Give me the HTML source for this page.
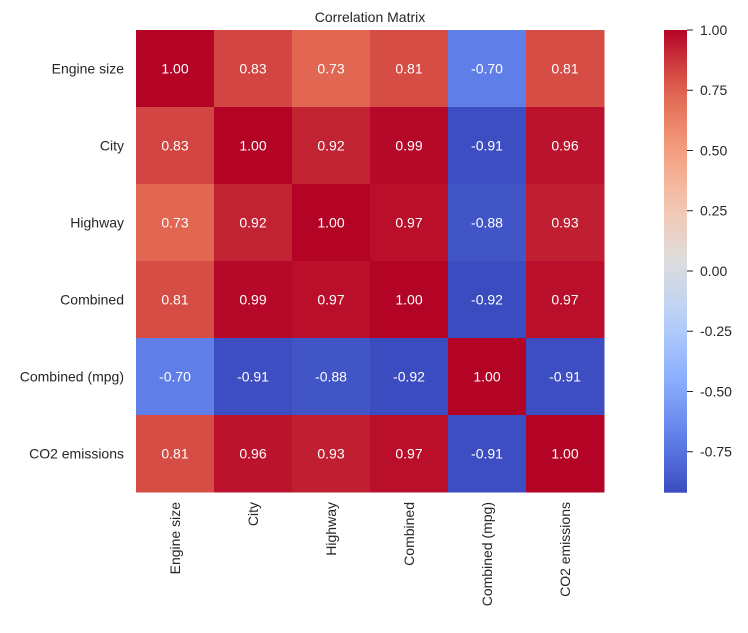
<!DOCTYPE html>
<html><head><meta charset="utf-8"><style>
body{margin:0;background:#fff;width:748px;height:628px;overflow:hidden}
svg text{font-family:"Liberation Sans","DejaVu Sans",sans-serif;fill:#262626}
</style></head><body>
<svg id="chart" width="748" height="628"></svg>
<script>
const labels = ["Engine size","City","Highway","Combined","Combined (mpg)","CO2 emissions"];
const row0 = [1.00,0.83,0.73,0.81,-0.70,0.81];
const row1 = [0.83,1.00,0.92,0.99,-0.91,0.96];
const row2 = [0.73,0.92,1.00,0.97,-0.88,0.93];
const row3 = [0.81,0.99,0.97,1.00,-0.92,0.97];
const row4 = [-0.70,-0.91,-0.88,-0.92,1.00,-0.91];
const row5 = [0.81,0.96,0.93,0.97,-0.91,1.00];
const matrix = [row0,row1,row2,row3,row4,row5];
const cbTicks = [1.00,0.75,0.50,0.25,0.00,-0.25,-0.50,-0.75];
const vmin = -0.92, vmax = 1.00;

const NS="http://www.w3.org/2000/svg";
const svg=document.getElementById('chart');
function mk(t,a,p){const e=document.createElementNS(NS,t);for(const k in a)e.setAttribute(k,a[k]);(p||svg).appendChild(e);return e;}
const cmap=[[59,76,192],[98,130,234],[141,176,254],[184,208,249],[221,221,221],[245,196,173],[244,154,123],[222,96,77],[180,4,38]];
function color(v){let t=(v-vmin)/(vmax-vmin);t=Math.max(0,Math.min(1,t));const s=t*8,i=Math.min(7,Math.floor(s)),f=s-i;
const c=cmap[i].map((x,k)=>Math.round(x+(cmap[i+1][k]-x)*f));return `rgb(${c})`;}
const X0=136,Y0=30,CW=78,CH=77;
const xPos=j=>X0+j*CW, yPos=i=>Y0+i*CH;

const title=mk('text',{x:370,y:22,'text-anchor':'middle','font-size':14});
title.textContent='Correlation Matrix';



matrix.forEach((row,i)=>row.forEach((v,j)=>{
  const r=mk('rect',{x:xPos(j),y:yPos(i),width:CW+0.5,height:CH+0.5,fill:color(v)});
  
  
  const t=mk('text',{x:xPos(j)+CW/2,y:yPos(i)+CH/2+5,'text-anchor':'middle','font-size':14,style:'fill:#fff'});
  t.textContent=v.toFixed(2);
  
  
}));
labels.forEach((l,i)=>{
  const t=mk('text',{x:124,y:yPos(i)+CH/2+5,'text-anchor':'end','font-size':14});
  t.textContent=l;
  
  
  const cx=xPos(i)+CW/2+5;
  const u=mk('text',{x:cx,y:502,'text-anchor':'end','font-size':14,transform:`rotate(-90 ${cx} 502)`});
  u.textContent=l;
  
  
});
// colorbar
const CBX=664,CBW=23,CBT=30,CBB=492.7;
const defs=mk('defs',{});
const g=mk('linearGradient',{id:'cb',x1:0,y1:1,x2:0,y2:0},defs);
for(let k=0;k<=20;k++){const v=vmin+(vmax-vmin)*k/20;mk('stop',{offset:k/20,'stop-color':color(v)},g);}
const cb=mk('rect',{x:CBX,y:CBT,width:CBW,height:CBB-CBT,fill:'url(#cb)'});


const cy=v=>CBT+(vmax-v)/(vmax-vmin)*(CBB-CBT);
cbTicks.forEach(v=>{
  mk('line',{x1:CBX+CBW,x2:CBX+CBW+6,y1:cy(v),y2:cy(v),stroke:'#262626','stroke-width':1});
  const t=mk('text',{x:CBX+CBW+13,y:cy(v)+5,'font-size':14});
  t.textContent=v.toFixed(2);
  
  
});
</script>
</body></html>
